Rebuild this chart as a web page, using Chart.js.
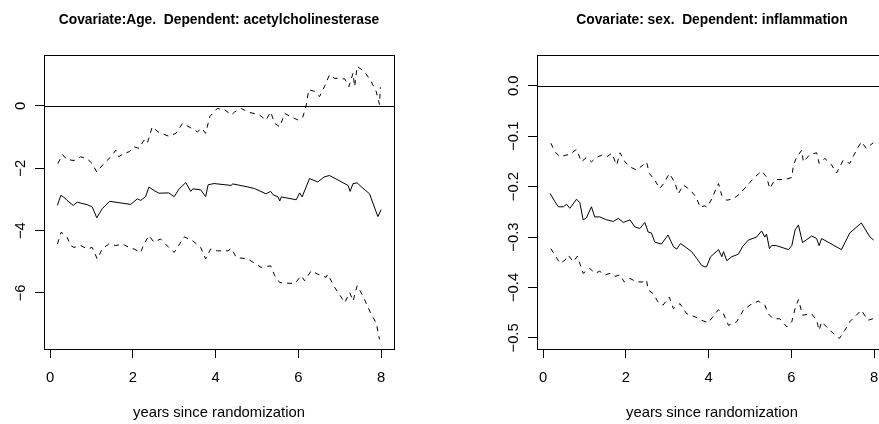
<!DOCTYPE html>
<html>
<head>
<meta charset="utf-8">
<script src="https://cdn.jsdelivr.net/npm/chart.js@4"></script>
<style>
  html, body { margin: 0; padding: 0; background: #fff; overflow: hidden; }
  .panel { position: absolute; top: 0; }
  #leftBox { left: 0; }
  #rightBox { left: 440px; }
</style>
</head>
<body>
<div class="panel" id="leftBox"><canvas id="ageChart" width="440" height="424"></canvas></div>
<div class="panel" id="rightBox"><canvas id="sexChart" width="460" height="424"></canvas></div>
<script>
// left panel: covariate age, dependent acetylcholinesterase
const ageEstX = [0.18,0.26,0.33,0.41,0.56,0.66,0.90,1.02,1.13,1.26,1.44,1.95,2.11,2.19,2.31,2.39,2.51,2.63,2.87,3.00,
  3.12,3.28,3.40,3.45,3.64,3.76,3.82,3.96,4.38,4.41,4.78,4.94,5.22,5.33,5.39,5.51,5.55,5.59,5.95,6.03,
  6.09,6.27,6.47,6.62,6.75,7.20,7.25,7.32,7.42,7.56,7.72,7.92,8.00];
const ageEstY = [-3.19,-2.87,-2.92,-3.03,-3.19,-3.09,-3.17,-3.24,-3.59,-3.30,-3.06,-3.16,-2.98,-3.03,-2.91,-2.60,-2.71,-2.80,-2.79,-2.91,
  -2.66,-2.46,-2.74,-2.66,-2.69,-2.91,-2.53,-2.49,-2.55,-2.50,-2.60,-2.65,-2.82,-2.74,-2.85,-2.92,-3.05,-2.92,-3.01,-2.79,
  -2.92,-2.33,-2.44,-2.28,-2.23,-2.55,-2.74,-2.49,-2.47,-2.64,-2.82,-3.55,-3.33];

const ageUpX = [0.19,0.30,0.41,0.58,0.74,0.90,1.02,1.13,1.30,1.47,1.59,1.66,1.79,1.91,2.03,2.15,2.27,2.35,2.47,2.63,
  2.87,3.04,3.20,3.40,3.56,3.67,3.76,3.86,4.04,4.22,4.38,4.46,4.62,4.78,5.06,5.22,5.33,5.43,5.55,5.67,
  5.83,5.99,6.11,6.19,6.25,6.39,6.51,6.63,6.75,6.87,7.12,7.22,7.32,7.36,7.42,7.60,7.76,7.88,7.93,7.96,7.98];
const ageUpY = [-1.85,-1.56,-1.72,-1.75,-1.63,-1.70,-1.85,-2.12,-1.85,-1.63,-1.42,-1.63,-1.52,-1.47,-1.31,-1.36,-1.10,-1.20,-0.67,-0.85,
  -0.97,-0.88,-0.56,-0.70,-0.83,-0.72,-0.88,-0.34,-0.08,-0.12,-0.29,-0.19,-0.08,-0.19,-0.29,-0.45,-0.19,-0.56,-0.67,-0.24,
  -0.35,-0.45,-0.35,0.03,0.52,0.47,0.30,0.62,1.00,0.89,0.87,0.62,1.05,0.62,1.27,1.10,0.78,0.47,0.20,0.05,0.60];

const ageLoX = [0.18,0.27,0.41,0.50,0.58,0.74,0.90,1.02,1.14,1.26,1.42,1.59,1.75,1.91,2.03,2.19,2.27,2.39,2.51,2.67,
  2.87,3.00,3.16,3.24,3.44,3.64,3.76,3.88,4.04,4.30,4.38,4.50,4.78,5.10,5.33,5.43,5.55,5.91,6.07,6.15,
  6.31,6.47,6.67,6.71,6.88,7.12,7.24,7.32,7.42,7.56,7.76,7.88,7.96];
const ageLoY = [-4.43,-4.05,-4.20,-4.48,-4.54,-4.48,-4.59,-4.54,-4.91,-4.59,-4.43,-4.48,-4.43,-4.54,-4.59,-4.70,-4.43,-4.16,-4.37,-4.27,
  -4.54,-4.70,-4.37,-4.20,-4.32,-4.54,-4.91,-4.59,-4.65,-4.65,-4.57,-4.86,-4.91,-5.18,-5.13,-5.45,-5.67,-5.70,-5.45,-5.61,
  -5.29,-5.40,-5.50,-5.40,-5.83,-6.31,-5.99,-6.26,-5.77,-6.10,-6.69,-6.96,-7.49];

// right panel: covariate sex, dependent inflammation
const sexEstX = [0.17,0.29,0.37,0.49,0.57,0.65,0.81,0.89,0.97,1.05,1.17,1.25,1.37,1.54,1.70,1.82,1.94,2.10,2.22,2.34,
  2.46,2.54,2.62,2.70,2.86,3.02,3.15,3.23,3.32,3.43,3.59,3.71,3.83,3.91,3.95,4.05,4.24,4.32,4.36,4.44,
  4.56,4.72,4.82,4.96,5.16,5.28,5.36,5.40,5.47,5.52,5.64,5.93,6.01,6.09,6.17,6.27,6.49,6.61,6.67,6.73,
  7.21,7.41,7.69,7.90,7.99];
const sexEstY = [-0.2135,-0.230,-0.240,-0.240,-0.235,-0.243,-0.225,-0.232,-0.266,-0.262,-0.240,-0.260,-0.260,-0.266,-0.269,-0.263,-0.271,-0.266,-0.280,-0.283,
  -0.271,-0.290,-0.292,-0.310,-0.314,-0.296,-0.319,-0.324,-0.313,-0.319,-0.329,-0.342,-0.356,-0.359,-0.359,-0.339,-0.325,-0.339,-0.329,-0.347,
  -0.339,-0.334,-0.319,-0.306,-0.300,-0.288,-0.300,-0.294,-0.323,-0.317,-0.317,-0.325,-0.317,-0.286,-0.276,-0.311,-0.298,-0.303,-0.317,-0.303,
  -0.325,-0.292,-0.272,-0.300,-0.306];

const sexUpX = [0.19,0.29,0.41,0.53,0.65,0.81,0.93,1.05,1.17,1.29,1.41,1.54,1.66,1.78,1.86,1.98,2.10,2.26,2.42,2.50,
  2.57,2.70,2.82,2.94,3.05,3.18,3.27,3.39,3.55,3.71,3.79,3.91,3.96,4.08,4.18,4.24,4.32,4.44,4.60,4.76,
  4.92,5.08,5.28,5.40,5.48,5.60,5.85,6.01,6.05,6.13,6.25,6.29,6.45,6.61,6.67,6.81,6.97,7.09,7.25,7.41,
  7.57,7.69,7.81,7.98];
const sexUpY = [-0.114,-0.131,-0.141,-0.138,-0.136,-0.126,-0.151,-0.142,-0.151,-0.142,-0.138,-0.141,-0.134,-0.157,-0.133,-0.151,-0.161,-0.167,-0.157,-0.151,
  -0.174,-0.187,-0.204,-0.191,-0.174,-0.191,-0.214,-0.197,-0.206,-0.222,-0.241,-0.238,-0.241,-0.224,-0.204,-0.194,-0.218,-0.227,-0.224,-0.214,
  -0.199,-0.184,-0.169,-0.181,-0.204,-0.186,-0.186,-0.182,-0.157,-0.141,-0.128,-0.151,-0.136,-0.133,-0.154,-0.144,-0.157,-0.173,-0.148,-0.154,
  -0.128,-0.111,-0.124,-0.113];

const sexLoX = [0.19,0.29,0.41,0.53,0.61,0.73,0.83,0.97,1.13,1.25,1.37,1.50,1.62,1.74,1.86,1.96,2.10,2.26,2.41,2.50,
  2.54,2.66,2.78,2.90,3.05,3.15,3.31,3.47,3.67,3.83,3.99,4.16,4.24,4.36,4.48,4.68,4.84,5.00,5.20,5.36,
  5.44,5.56,5.72,5.89,6.01,6.09,6.17,6.27,6.49,6.61,6.67,6.73,6.93,7.16,7.29,7.41,7.69,7.85,7.97];
const sexLoY = [-0.323,-0.336,-0.352,-0.346,-0.336,-0.349,-0.338,-0.372,-0.362,-0.372,-0.368,-0.375,-0.372,-0.378,-0.375,-0.389,-0.382,-0.389,-0.389,-0.385,
  -0.405,-0.412,-0.429,-0.435,-0.419,-0.442,-0.432,-0.452,-0.458,-0.465,-0.470,-0.452,-0.444,-0.452,-0.475,-0.468,-0.445,-0.435,-0.427,-0.435,
  -0.452,-0.462,-0.462,-0.478,-0.468,-0.442,-0.424,-0.455,-0.452,-0.465,-0.485,-0.468,-0.485,-0.501,-0.485,-0.468,-0.445,-0.465,-0.462];

// ticks
const xTicks = [0, 2, 4, 6, 8];
const ageTicks = [-6, -4, -2, 0];
const sexTicks = [-0.5, -0.4, -0.3, -0.2, -0.1, 0.0];

const xLabel = 'years since randomization';
const ageTitle = 'Covariate:Age.  Dependent: acetylcholinesterase';
const sexTitle = 'Covariate: sex.  Dependent: inflammation';

Chart.defaults.font.family = '"Liberation Sans", Arial, Helvetica, sans-serif';
Chart.defaults.color = '#000';

function pts(xs, ys) {
    return xs.map((x, i) => ({x: x, y: ys[i]}));
}

function minusLabel(v, digits) {
    const s = Math.abs(v).toFixed(digits);
    return v < 0 ? '\u2212' + s : s;
}

// R look: box, abline(h = 0), rotated y tick labels, main title, x label
const rStyle = {
    id: 'rStyle',
    afterDraw(chart, args, opts) {
        const ctx = chart.ctx;
        const a = chart.chartArea;
        const ys = chart.scales.y;
        ctx.save();
        ctx.strokeStyle = '#000';
        ctx.lineWidth = 1;
        ctx.strokeRect(a.left + 0.5, a.top + 0.5, a.right - a.left, a.bottom - a.top);

        const y0 = Math.round(ys.getPixelForValue(0)) + 0.5;
        ctx.beginPath();
        ctx.moveTo(a.left, y0);
        ctx.lineTo(a.right, y0);
        ctx.stroke();

        ctx.fillStyle = '#000';
        ctx.font = '14.8px "Liberation Sans", Arial, sans-serif';
        ctx.textAlign = 'center';
        ctx.textBaseline = 'alphabetic';
        opts.yTicks.forEach(v => {
            ctx.save();
            ctx.translate(a.left - 19, ys.getPixelForValue(v));
            ctx.rotate(-Math.PI / 2);
            ctx.fillText(minusLabel(v, opts.digits), 0, 0);
            ctx.restore();
        });

        const cx = (a.left + a.right) / 2;
        ctx.fillText(xLabel, cx, 416.5);

        ctx.font = 'bold 13.8px "Liberation Sans", Arial, sans-serif';
        ctx.fillText(opts.title, cx, 24);
        ctx.restore();
    }
};

function makeConfig(est, up, lo, yMin, yMax, yTicks, digits, title, yWidth, padRight) {
    const lineStyle = {
        borderColor: '#000',
        borderWidth: 1,
        pointRadius: 0,
        tension: 0,
        fill: false
    };
    return {
        type: 'line',
        data: {
            datasets: [
                Object.assign({label: 'estimate', data: est}, lineStyle),
                Object.assign({label: 'upper', data: up, borderDash: [5, 5]}, lineStyle),
                Object.assign({label: 'lower', data: lo, borderDash: [5, 5]}, lineStyle)
            ]
        },
        options: {
            responsive: false,
            animation: false,
            layout: {
                padding: {left: 0, right: padRight, top: 55, bottom: 0}
            },
            plugins: {
                legend: {display: false},
                tooltip: {enabled: false},
                rStyle: {yTicks: yTicks, digits: digits, title: title}
            },
            scales: {
                x: {
                    type: 'linear',
                    min: -0.145,
                    max: 8.31,
                    afterBuildTicks: s => { s.ticks = xTicks.map(v => ({value: v})); },
                    afterFit: s => { s.height = 75; },
                    border: {display: false},
                    grid: {drawOnChartArea: false, tickLength: 9, color: '#000'},
                    ticks: {padding: 11, font: {size: 14.8}, maxRotation: 0}
                },
                y: {
                    type: 'linear',
                    min: yMin,
                    max: yMax,
                    afterBuildTicks: s => { s.ticks = yTicks.map(v => ({value: v})); },
                    afterFit: s => { s.width = yWidth; },
                    border: {display: false},
                    grid: {drawOnChartArea: false, tickLength: 9, color: '#000'},
                    ticks: {display: false}
                }
            }
        },
        plugins: [rStyle]
    };
}

const ageChart = new Chart(
    document.getElementById('ageChart'),
    makeConfig(pts(ageEstX, ageEstY), pts(ageUpX, ageUpY), pts(ageLoX, ageLoY),
        -7.80, 1.636, ageTicks, 0, ageTitle, 44, 46)
);

const sexChart = new Chart(
    document.getElementById('sexChart'),
    makeConfig(pts(sexEstX, sexEstY), pts(sexUpX, sexUpY), pts(sexLoX, sexLoY),
        -0.522, 0.061, sexTicks, 1, sexTitle, 97, 13)
);
</script>
</body>
</html>
